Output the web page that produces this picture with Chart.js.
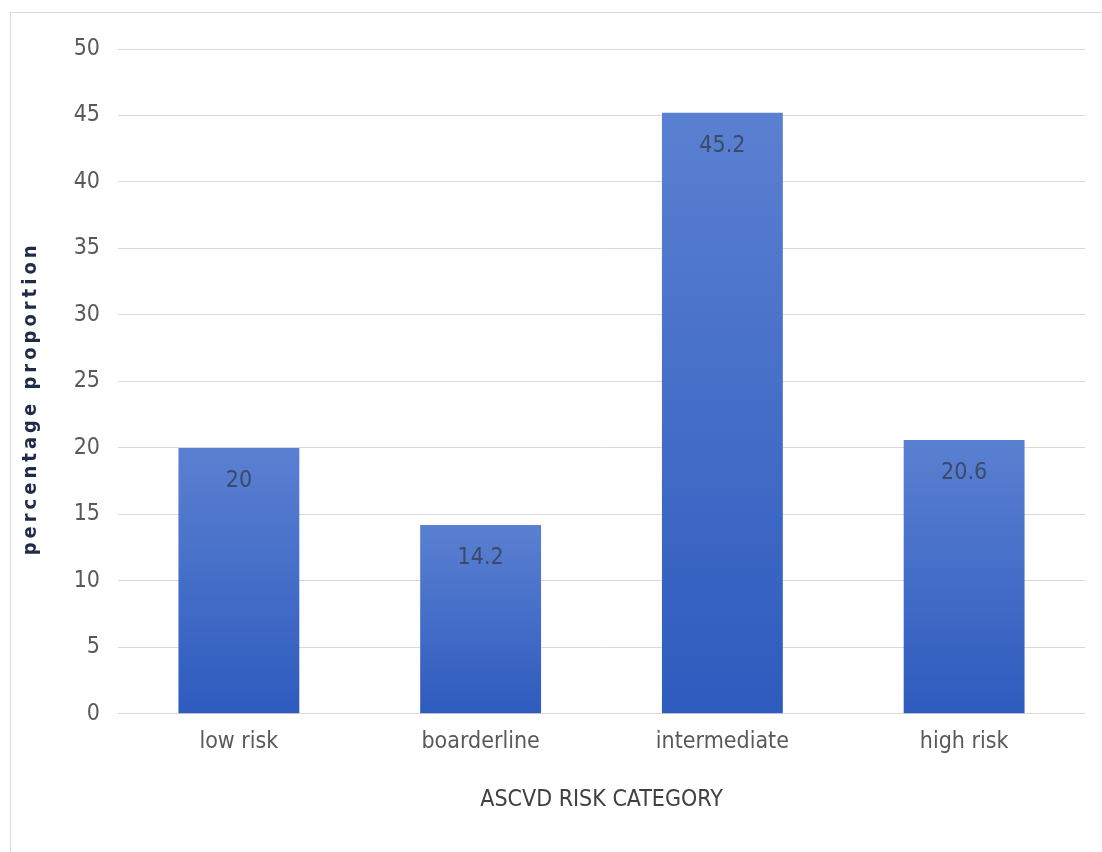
<!DOCTYPE html>
<html>
<head>
<meta charset="utf-8">
<title>ASCVD risk category</title>
<script src="https://cdn.jsdelivr.net/npm/chart.js@4.4.0/dist/chart.umd.min.js"></script>
<style>
  html, body { margin: 0; padding: 0; background: #fff; }
  #wrap { position: relative; width: 1102px; height: 852px; overflow: hidden; }
  #frame { position: absolute; left: 10px; top: 12px; width: 1200px; height: 900px; border: 1px solid #dcdcdc; }
  #chartBox { position: absolute; left: 0; top: 0; width: 1102px; height: 852px; }
</style>
</head>
<body>
<div id="wrap">
  <div id="frame"></div>
  <div id="chartBox"><canvas id="riskChart" width="1102" height="852"></canvas></div>
</div>
<script>
//******************************  DATA  ******************************
const riskCategories = ['low risk', 'boarderline', 'intermediate', 'high risk'];
const riskValues = [20, 14.2, 45.2, 20.6];
const xAxisTitle = 'ASCVD RISK CATEGORY';
const yAxisTitle = 'percentage proportion';

//******************************  STYLE  ******************************
const labelFont = "'Liberation Sans Narrow', 'Arial Narrow', 'DejaVu Sans Condensed', sans-serif";
const barTop = '#5a80d1';
const barBottom = '#2e5bbe';
const gridColor = '#d9d9d9';
const tickColor = '#595959';

// each bar gets its own top-to-bottom gradient, like the office chart
function barGradient(context) {
  const chart = context.chart;
  if (!chart.chartArea) return barBottom;
  const y = chart.scales.y;
  const top = y.getPixelForValue(riskValues[context.dataIndex]);
  const bottom = y.getPixelForValue(0);
  if (!isFinite(top) || !isFinite(bottom) || top === bottom) return barBottom;
  const g = chart.ctx.createLinearGradient(0, top, 0, bottom);
  g.addColorStop(0, barTop);
  g.addColorStop(1, barBottom);
  return g;
}

// value written inside the bar, just under its top
const barValueLabels = {
  id: 'barValueLabels',
  afterDatasetsDraw(chart) {
    const ctx = chart.ctx;
    const meta = chart.getDatasetMeta(0);
    ctx.save();
    ctx.font = '23px ' + labelFont;
    ctx.fillStyle = '#3b4a6b';
    ctx.textAlign = 'center';
    ctx.textBaseline = 'middle';
    meta.data.forEach((bar, i) => {
      ctx.fillText(String(riskValues[i]), bar.x, bar.y + 33);
    });
    ctx.restore();
  }
};

// rotated y title, letter-spaced like the original
const yTitlePlugin = {
  id: 'yTitlePlugin',
  afterDraw(chart) {
    const ctx = chart.ctx;
    const area = chart.chartArea;
    ctx.save();
    ctx.translate(31, (area.top + area.bottom) / 2 + 17);
    ctx.rotate(-Math.PI / 2);
    ctx.letterSpacing = '4px';
    ctx.font = "bold 20px 'DejaVu Sans Condensed', 'Liberation Sans', sans-serif";
    ctx.fillStyle = '#1f2b47';
    ctx.textAlign = 'center';
    ctx.textBaseline = 'middle';
    ctx.fillText(yAxisTitle, 0, 0);
    ctx.restore();
  }
};

const riskChart = new Chart(document.getElementById('riskChart').getContext('2d'), {
  type: 'bar',
  data: {
    labels: riskCategories,
    datasets: [{
      data: riskValues,
      backgroundColor: barGradient,
      borderWidth: 0,
      barPercentage: 0.5,
      categoryPercentage: 1
    }]
  },
  options: {
    responsive: false,
    animation: false,
    layout: { padding: { top: 49, right: 17, bottom: 34, left: 0 } },
    plugins: {
      legend: { display: false },
      tooltip: { enabled: false }
    },
    scales: {
      x: {
        grid: { display: false, drawTicks: false },
        border: { display: false },
        ticks: { color: tickColor, font: { family: labelFont, size: 23 }, padding: 14 },
        title: {
          display: true,
          text: xAxisTitle,
          color: '#404040',
          font: { family: labelFont, size: 23 },
          padding: { top: 17, bottom: 4 }
        }
      },
      y: {
        min: 0,
        max: 50,
        ticks: { stepSize: 5, color: tickColor, font: { family: labelFont, size: 23 }, padding: 18 },
        grid: { color: gridColor, lineWidth: 1, drawTicks: false },
        border: { display: false },
        afterFit(scale) { scale.width = 118; }
      }
    }
  },
  plugins: [barValueLabels, yTitlePlugin]
});
</script>
</body>
</html>
